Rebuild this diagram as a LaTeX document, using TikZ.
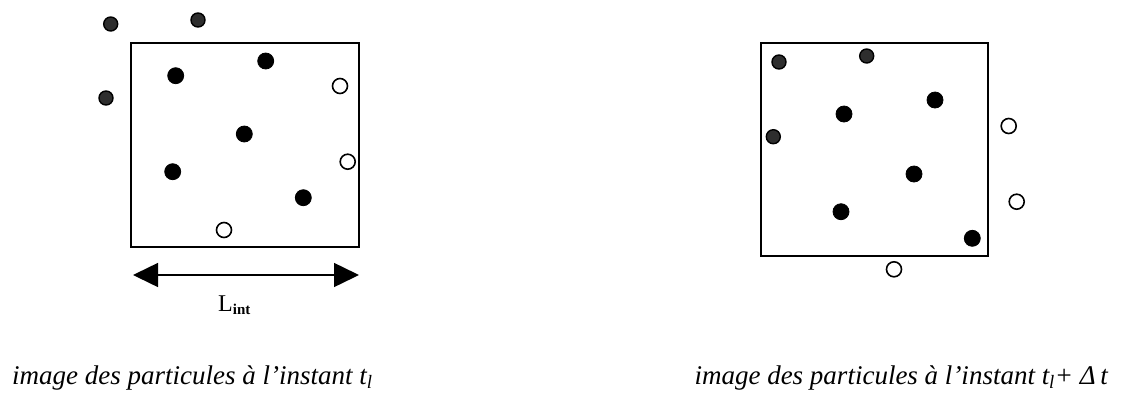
\documentclass[tikz,border=0pt]{standalone}
\usepackage{fontspec}
\setmainfont{Liberation Serif}
\usetikzlibrary{arrows.meta}
\tikzset{
  frame/.style={draw=black, line width=1.4pt},
  full/.style={circle, fill=black, draw=black, line width=0.8pt, minimum size=16pt, inner sep=0pt},
  hollow/.style={circle, fill=white, draw=black, line width=1.6pt, minimum size=15pt, inner sep=0pt},
  marked/.style={circle, fill=black!82, draw=black, line width=1.4pt, minimum size=14pt, inner sep=0pt},
  caption/.style={font=\fontsize{27}{30}\selectfont\itshape, inner sep=0pt},
  span/.style={line width=1.5pt, {Triangle[length=25pt,width=24pt]}-{Triangle[length=25pt,width=24pt]}}
}
\begin{document}
\begin{tikzpicture}[x=1pt, y=-1pt]
\useasboundingbox (0,0) rectangle (1122,400);

% first frame (time t_1)
\draw[frame] (131,43) rectangle (359,247);
\node[marked] (a1) at (110.7,24) {};
\node[marked] (a2) at (198,20) {};
\node[marked] (a3) at (106,98) {};
\node[full] (a4) at (175.7,75.7) {};
\node[full] (a5) at (265.7,61) {};
\node[hollow] (a6) at (340,86) {};
\node[full] (a7) at (244.3,134) {};
\node[hollow] (a8) at (347.7,161.7) {};
\node[full] (a9) at (172.7,171.7) {};
\node[full] (a10) at (303.3,197.7) {};
\node[hollow] (a11) at (224,230) {};

% interrogation length
\coordinate (la) at (133,275);
\coordinate (lb) at (359,275);
\draw[span] (la) -- (lb);
\node[font=\fontsize{24}{26}\selectfont, anchor=base west, inner sep=0pt] (lint) at (218,311) {L\raisebox{-3pt}{\fontsize{15}{16}\selectfont\bfseries int}};

% second frame (time t_1 + Delta t)
\draw[frame] (761,43) rectangle (988,256);
\node[marked] (b1) at (779,62) {};
\node[marked] (b2) at (866.7,56) {};
\node[marked] (b3) at (773.3,136.7) {};
\node[full] (b4) at (935,100) {};
\node[full] (b5) at (844,114) {};
\node[hollow] (b6) at (1008.7,126) {};
\node[full] (b7) at (914,174) {};
\node[hollow] (b8) at (1016.7,201.7) {};
\node[full] (b9) at (841,211.7) {};
\node[full] (b10) at (972.3,238.3) {};
\node[hollow] (b11) at (894,269.3) {};

% captions
\node[caption, anchor=base west] (c1) at (12,384) {image des particules à l'instant t\textsubscript{l}};
\node[caption, anchor=base east] (c2) at (1108,384) {image des particules à l'instant t\textsubscript{l}+ Δ\,t};
\end{tikzpicture}
\end{document}
